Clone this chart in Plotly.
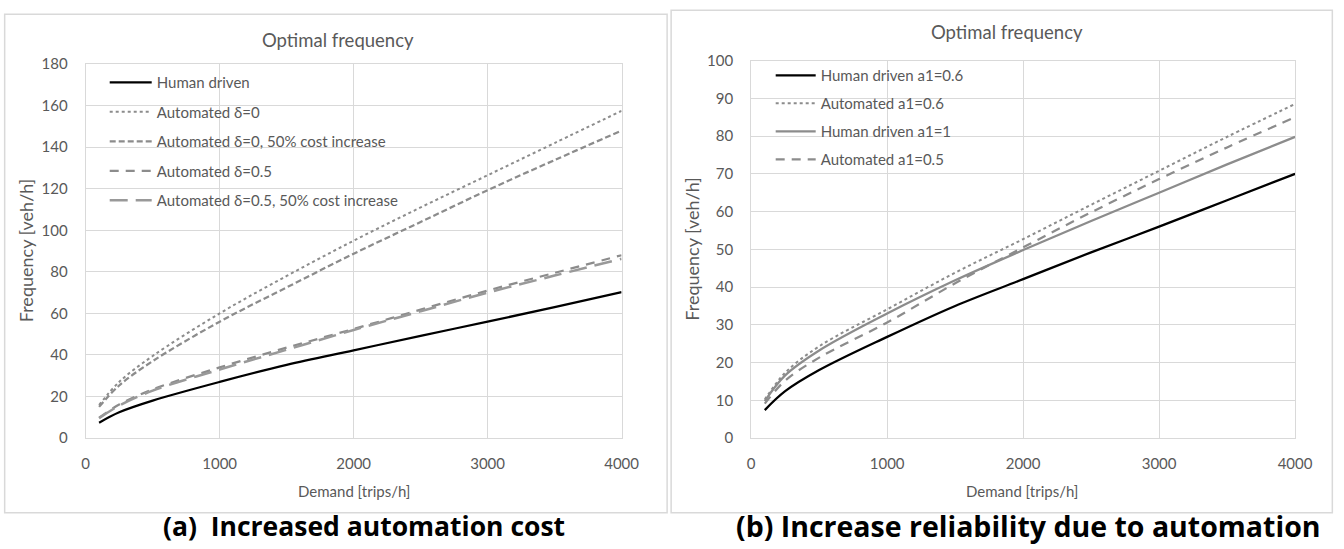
import plotly.graph_objects as go

# ---------------- data ----------------
demand = [100, 250, 500, 1000, 1500, 2000, 2500, 3000, 3500, 4000]

# (a) Increased automation cost
a_human = [7.4, 12.4, 18.0, 27.0, 35.2, 42.2, 49.2, 56.0, 63.0, 70.2]
a_auto_d0 = [15.9, 27.0, 39.5, 60.0, 78.0, 95.0, 111.0, 126.5, 142.0, 157.5]
a_auto_d0_cost = [15.0, 25.3, 37.0, 56.0, 72.5, 88.7, 104.0, 119.3, 133.8, 148.0]
a_auto_d05 = [9.8, 16.1, 23.4, 34.0, 43.5, 52.5, 61.8, 71.0, 79.5, 88.0]
a_auto_d05_cost = [9.5, 15.6, 22.8, 33.0, 42.5, 52.0, 61.0, 70.0, 78.2, 86.3]

# (b) Increase reliability due to automation
b_human_06 = [7.4, 12.4, 18.0, 26.8, 35.0, 42.1, 49.2, 56.0, 63.0, 70.0]
b_auto_06 = [10.2, 17.3, 24.3, 34.1, 43.8, 52.7, 61.8, 70.8, 79.8, 88.5]
b_human_1 = [9.8, 16.6, 23.2, 33.0, 41.8, 49.8, 57.5, 65.0, 72.5, 79.8]
b_auto_05 = [9.1, 15.2, 21.3, 30.6, 41.0, 50.5, 59.8, 68.6, 77.0, 85.0]

x_ticks = [0, 1000, 2000, 3000, 4000]
a_y_ticks = list(range(0, 181, 20))
b_y_ticks = list(range(0, 101, 10))

# ---------------- style ----------------
# The page keeps the browser's 8px body margin; positions below are given in
# target-picture pixels and converted to figure fractions.
OFF = 8
SX, SY = 0.983, 0.97
DX = 2.5
W, H = 1351, 550
FONT = "Lato"
TXT = "#595959"
GRID = "#d9d9d9"
GRAY = "#8c8c8c"


def px(x):
    return min(max(((x + DX) / SX - OFF) / W, 0.0005), 0.9995)


def py(y):
    return min(max(1 - (y / SY - OFF) / H, 0.0005), 0.9995)


fig = go.Figure()

a_series = [
    ("Human driven", a_human, "#000000", "solid", 2.25),
    ("Automated δ=0", a_auto_d0, GRAY, "dot", 2.0),
    ("Automated δ=0, 50% cost increase", a_auto_d0_cost, GRAY, "6px,3px", 2.25),
    ("Automated δ=0.5", a_auto_d05, GRAY, "9px,7px", 2.25),
    ("Automated δ=0.5, 50% cost increase", a_auto_d05_cost, "#999999", "18px,8px", 2.5),
]
for i, (name, ys, col, dash, w) in enumerate(a_series):
    fig.add_trace(go.Scatter(
        x=demand, y=ys, name=name, mode="lines", line_shape="spline",
        line=dict(color=col, dash=dash, width=w),
        xaxis="x", yaxis="y", legend="legend", legendgroup=f"a{i}",
    ))

b_series = [
    ("Human driven a1=0.6", b_human_06, "#000000", "solid", 2.25),
    ("Automated a1=0.6", b_auto_06, GRAY, "dot", 2.0),
    ("Human driven a1=1", b_human_1, GRAY, "solid", 2.25),
    ("Automated a1=0.5", b_auto_05, GRAY, "9px,7px", 2.25),
]
for i, (name, ys, col, dash, w) in enumerate(b_series):
    fig.add_trace(go.Scatter(
        x=demand, y=ys, name=name, mode="lines", line_shape="spline",
        line=dict(color=col, dash=dash, width=w),
        xaxis="x2", yaxis="y2", legend="legend2", legendgroup=f"b{i}",
    ))

axis_common = dict(
    showgrid=True, gridcolor=GRID, gridwidth=1,
    showline=True, linecolor=GRID, linewidth=1, mirror=True,
    zeroline=False, ticks="",
    tickfont=dict(family=FONT, size=15, color=TXT),
)

fig.update_layout(
    width=W, height=H,
    margin=dict(l=0, r=0, t=0, b=0),
    paper_bgcolor="white", plot_bgcolor="white",
    font=dict(family=FONT, color=TXT),
    xaxis=dict(domain=[px(87), px(622.5)], range=[0, 4000], tickvals=x_ticks, anchor="y",
               ticklabelstandoff=12, **axis_common),
    yaxis=dict(domain=[py(437), py(62)], range=[0, 180], tickvals=a_y_ticks, anchor="x",
               ticklabelstandoff=14, **axis_common),
    xaxis2=dict(domain=[px(752), px(1295.5)], range=[0, 4000], tickvals=x_ticks, anchor="y2",
                ticklabelstandoff=12, **axis_common),
    yaxis2=dict(domain=[py(437), py(58.5)], range=[0, 100], tickvals=b_y_ticks, anchor="x2",
                ticklabelstandoff=14, **axis_common),
    legend=dict(x=px(106), y=py(64), xanchor="left", yanchor="top",
                bgcolor="rgba(0,0,0,0)", tracegroupgap=7, itemwidth=42,
                font=dict(family=FONT, size=15, color=TXT)),
    legend2=dict(x=px(771.5), y=py(57), xanchor="left", yanchor="top",
                 bgcolor="rgba(0,0,0,0)", tracegroupgap=5.5, itemwidth=40,
                 font=dict(family=FONT, size=15, color=TXT)),
    showlegend=True,
)

# chart-area borders
fig.add_shape(type="rect", xref="paper", yref="paper",
              x0=px(6), x1=px(668), y0=py(512), y1=py(12),
              line=dict(color=GRID, width=1.5), layer="below")
fig.add_shape(type="rect", xref="paper", yref="paper",
              x0=px(672), x1=px(1343), y0=py(512), y1=py(7),
              line=dict(color=GRID, width=1.5), layer="below")

ann = []
# titles
ann.append(dict(text="Optimal frequency", x=px(339), y=py(38), font=dict(size=18.5)))
ann.append(dict(text="Optimal frequency", x=px(1008), y=py(30), font=dict(size=18.5)))
# axis titles
ann.append(dict(text="Frequency [veh/h]", x=px(27), y=py(249), textangle=-90, font=dict(size=18)))
ann.append(dict(text="Frequency [veh/h]", x=px(692), y=py(247), textangle=-90, font=dict(size=18)))
ann.append(dict(text="Demand [trips/h]", x=px(355), y=py(490), font=dict(size=15)))
ann.append(dict(text="Demand [trips/h]", x=px(1023), y=py(490), font=dict(size=15)))
for a in ann:
    a.update(xref="paper", yref="paper", showarrow=False, xanchor="center", yanchor="middle")
    a["font"].update(family=FONT, color=TXT)
    fig.add_annotation(**a)

# captions
for text, cx, fs in [("(a)  Increased automation cost", 365, 26.5),
                     ("(b) Increase reliability due to automation", 1029, 28.5)]:
    fig.add_annotation(text=f"<b>{text}</b>", x=px(cx), y=py(525.5), xref="paper", yref="paper",
                       showarrow=False, xanchor="center", yanchor="middle",
                       font=dict(family="Open Sans", size=fs, color="#000000"))

fig.write_html("out.html")
